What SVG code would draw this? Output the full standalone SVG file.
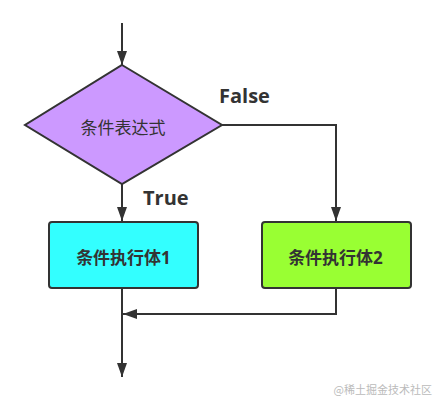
<svg xmlns="http://www.w3.org/2000/svg" width="442" height="406" viewBox="0 0 442 406">
<style>
.ln{fill:none;stroke:#333;stroke-width:2}
.nd{stroke:#333;stroke-width:2}
.t{font-family:"Open Sans","Noto Sans CJK SC",sans-serif;fill:#333;text-anchor:middle;dominant-baseline:central}
.lb{font-family:"Open Sans","Noto Sans CJK SC",sans-serif;fill:#333;font-weight:bold;font-size:20px}
</style>
<defs>
<marker id="ah" viewBox="0 0 14 10" markerWidth="14" markerHeight="10" refX="14" refY="5" orient="auto" markerUnits="userSpaceOnUse">
<path d="M0,0 L14,5 L0,10 z" fill="#333"/>
</marker>
</defs>
<rect width="442" height="406" fill="#fff"/>
<g id="connectors">
<path class="ln" d="M122,23 L122,65" marker-end="url(#ah)"/>
<path class="ln" d="M122,183 L122,221" marker-end="url(#ah)"/>
<path class="ln" d="M222,125 L336,125 L336,221" marker-end="url(#ah)"/>
<path class="ln" d="M336,288 L336,314 L123,314" marker-end="url(#ah)"/>
<path class="ln" d="M122,288 L122,377" marker-end="url(#ah)"/>
</g>
<g id="cond">
<polygon class="nd" points="122,65 222,125 122,184 25,125" fill="#CC99FF"/>
<text class="t" x="123" y="127" font-size="17">条件表达式</text>
</g>
<g id="body1">
<rect class="nd" x="49" y="222" width="149" height="66" rx="3" fill="#33FFFF"/>
<text class="t" x="123.5" y="257" font-size="17" font-weight="bold">条件执行体1</text>
</g>
<g id="body2">
<rect class="nd" x="262" y="222" width="149" height="66" rx="3" fill="#99FF33"/>
<text class="t" x="335.5" y="257" font-size="17" font-weight="bold">条件执行体2</text>
</g>
<text class="lb" x="219" y="103">False</text>
<text class="lb" x="143" y="205">True</text>
<text x="432" y="394" font-family="'Noto Sans CJK SC',sans-serif" font-size="11" fill="#bbb" text-anchor="end">@稀土掘金技术社区</text>
</svg>
